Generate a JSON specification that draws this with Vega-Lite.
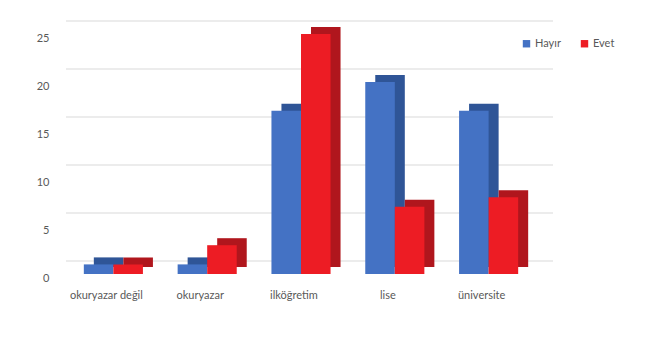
{
  "$schema": "https://vega.github.io/schema/vega-lite/v6.json",
  "width": 470,
  "height": 240,
  "padding": {"left": 66, "top": 34, "right": 112, "bottom": 63},
  "autosize": {"type": "none"},
  "background": "white",
  "config": {
    "view": {"stroke": null},
    "font": "Lato",
    "axis": {"labelFont": "Lato", "labelColor": "#595959", "labelFontSize": 11},
    "legend": {"labelFont": "Lato", "labelColor": "#595959", "labelFontSize": 11}
  },
  "datasets": {
    "bars": [
      {"egitim": "okuryazar değil", "cevap": "Hayır", "sayi": 1},
      {"egitim": "okuryazar değil", "cevap": "Evet", "sayi": 1},
      {"egitim": "okuryazar", "cevap": "Hayır", "sayi": 1},
      {"egitim": "okuryazar", "cevap": "Evet", "sayi": 3},
      {"egitim": "ilköğretim", "cevap": "Hayır", "sayi": 17},
      {"egitim": "ilköğretim", "cevap": "Evet", "sayi": 25},
      {"egitim": "lise", "cevap": "Hayır", "sayi": 20},
      {"egitim": "lise", "cevap": "Evet", "sayi": 7},
      {"egitim": "üniversite", "cevap": "Hayır", "sayi": 17},
      {"egitim": "üniversite", "cevap": "Evet", "sayi": 8}
    ],
    "grid": [{"v": 0}, {"v": 5}, {"v": 10}, {"v": 15}, {"v": 20}, {"v": 25}]
  },
  "layer": [
    {
      "data": {"name": "grid"},
      "mark": {"type": "rule", "color": "#d9d9d9", "strokeWidth": 1, "xOffset": 17, "x2Offset": 19, "yOffset": -13},
      "encoding": {
        "y": {"field": "v", "type": "quantitative", "scale": {"domain": [0, 25], "nice": false},
          "axis": {"values": [0, 5, 10, 15, 20, 25], "grid": false, "ticks": false, "domain": false, "title": null, "labelPadding": 17, "labelOffset": 4}}
      }
    },
    {
      "data": {"name": "bars"},
      "mark": {"type": "bar", "yOffset": -7},
      "encoding": {
        "x": {"field": "egitim", "type": "nominal", "sort": ["okuryazar değil", "okuryazar", "ilköğretim", "lise", "üniversite"],
          "scale": {"paddingInner": 0.37, "paddingOuter": 0.19},
          "axis": {"labelAngle": 0, "ticks": false, "domain": false, "title": null, "labelPadding": 15, "labelOffset": -7}},
        "xOffset": {"field": "cevap", "type": "nominal", "sort": ["Hayır", "Evet"], "scale": {"range": [10, 69.1]}},
        "y": {"field": "sayi", "type": "quantitative"},
        "color": {"field": "cevap", "type": "nominal", "scale": {"domain": ["Hayır", "Evet"], "range": ["#2f5597", "#b0161d"]}, "legend": null}
      }
    },
    {
      "data": {"name": "bars"},
      "mark": {"type": "bar"},
      "encoding": {
        "x": {"field": "egitim", "type": "nominal", "sort": ["okuryazar değil", "okuryazar", "ilköğretim", "lise", "üniversite"]},
        "xOffset": {"field": "cevap", "type": "nominal", "sort": ["Hayır", "Evet"]},
        "y": {"field": "sayi", "type": "quantitative"},
        "color": {"field": "cevap", "type": "nominal", "scale": {"domain": ["Hayır", "Evet"], "range": ["#4472c4", "#ed1c24"]},
          "legend": {"title": null, "orient": "none", "direction": "horizontal", "legendX": 455, "legendY": 4, "symbolType": "square", "symbolSize": 55, "symbolStrokeWidth": 0, "columnPadding": 18, "labelOffset": 3}}
      }
    }
  ],
  "resolve": {"scale": {"color": "independent", "xOffset": "independent"}}
}
